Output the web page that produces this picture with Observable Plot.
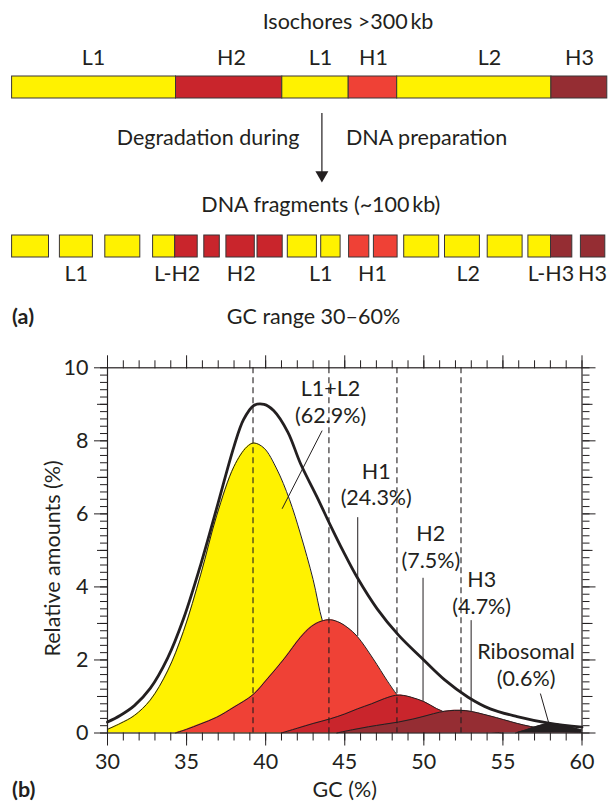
<!DOCTYPE html>
<html><head><meta charset="utf-8">
<script src="https://cdn.jsdelivr.net/npm/d3@7"></script>
<script src="https://cdn.jsdelivr.net/npm/@observablehq/plot@0.6"></script>
<style>
html,body{margin:0;padding:0;background:#fff;}
#fig{position:relative;width:610px;height:803px;overflow:hidden;}
#fig svg{position:absolute;left:0;}
</style></head><body><div id="fig"></div>
<script>
// ---------- Panel (a): schematic (positions along the DNA, arbitrary units) ----------
const isochoreClass = ["L1","H2","L1","H1","L2","H3"];
const isochoreStart = [11.6,175.5,281.8,348.2,396.7,550.9];
const isochoreEnd   = [175.5,281.8,348.2,396.7,550.9,606.8];
const isochoreLabelPos = [93,231,320,373,489,579];

const fragmentClass = ["L1","L1","L1","L1","H2","H2","H2","H2","L1","L1","H1","H1","L2","L2","L2","L2","H3","H3"];
const fragmentStart = [11.6,59.4,104.8,152.6,174.7,203.8,225.9,257.0,287.3,320.7,348.6,373.4,403.7,444.5,487.2,527.9,550.5,580.4];
const fragmentEnd   = [48.5,92.4,139.8,174.7,197.2,219.3,254.3,282.2,316.4,340.1,368.8,397.1,438.7,479.4,522.1,550.5,571.8,604.8];
const fragmentLabels = ["L1","L-H2","H2","L1","H1","L2","L-H3","H3"];
const fragmentLabelPos = [75.7,176.6,240.7,320.3,372,467.8,550.5,592];

// ---------- Panel (b): CsCl profile ----------
const xTickLabels = [30,35,40,45,50,55,60];
const yTickLabels = [0,2,4,6,8,10];

const totalGC  = [30,30.8,31.7,32.7,33.8,34.8,35.9,36.9,38.0,38.6,39.25,39.9,40.5,41.4,42.2,43.25,44.1,44.9,45.8,47.05,48.4,49.8,51.3,52.8,54.2,55.9,57.9,60];
const totalAmt = [0.30,0.48,0.75,1.22,2.05,3.12,4.62,6.15,7.85,8.58,8.97,9.00,8.83,8.24,7.38,6.46,5.68,4.98,4.25,3.40,2.68,2.08,1.46,0.98,0.66,0.45,0.27,0.16];

const l1l2GC  = [30,30.8,31.7,32.7,33.8,34.8,35.9,36.9,38.0,38.8,39.25,39.9,40.7,41.5,42.2,43.0,43.6,44.5,45.5,46.5,47.5];
const l1l2Amt = [0.10,0.26,0.48,0.90,1.70,2.78,4.35,5.95,7.30,7.83,7.94,7.80,7.23,6.40,5.45,4.20,3.05,2.00,1.10,0.50,0.15];

const h1GC  = [34.3,35.0,35.9,36.9,38.0,39.2,40.1,41.2,42.2,42.9,43.5,44.1,44.7,45.2,45.8,46.8,47.7,48.3,49.0,50.0,51.0];
const h1Amt = [0,0.10,0.25,0.43,0.71,1.05,1.48,2.05,2.62,2.92,3.06,3.10,3.02,2.88,2.64,2.03,1.42,1.05,0.70,0.30,0.05];

const h2GC  = [41.0,42.0,43.0,44.1,45.0,45.8,46.7,47.5,48.2,48.7,49.2,50.0,50.8,51.3,52.0,53.0,54.0,55.0];
const h2Amt = [0,0.13,0.26,0.39,0.52,0.66,0.80,0.94,1.03,1.03,0.98,0.86,0.67,0.57,0.38,0.18,0.06,0];

const h3GC  = [44.5,45.5,46.5,47.5,48.4,49.3,50.2,51.0,51.6,52.3,53.0,53.8,54.6,55.5,56.3,57.2,58.2,59.0,60];
const h3Amt = [0,0.09,0.17,0.24,0.30,0.38,0.48,0.57,0.61,0.62,0.59,0.51,0.42,0.31,0.22,0.14,0.07,0.04,0.02];

const riboGC  = [55.8,56.5,57.2,57.9,58.5,59.2,60];
const riboAmt = [0,0.09,0.19,0.26,0.24,0.17,0.08];

const peakGC = [39.2,44.0,48.3,52.35];

const labelName = ["L1+L2","H1","H2","H3","Ribosomal"];
const labelPct  = ["(62.9%)","(24.3%)","(7.5%)","(4.7%)","(0.6%)"];
const labelGC   = [44.1,46.99,50.44,53.66,56.46];
const labelAmt  = [8.50,6.23,4.53,3.27,1.30];
const leaderGC1  = [43.57,45.82,49.95,52.99,57.37];
const leaderAmt1 = [8.28,5.91,4.25,3.09,1.08];
const leaderGC2  = [41.04,45.82,49.95,52.99,57.9];
const leaderAmt2 = [6.14,2.66,0.88,0.60,0.27];

// ---------- styling ----------
const ink = "#231F20";
const fs = 21.5;
const font = "Lato, sans-serif";
const classColor = {L1:"#FFF200", L2:"#FFF200", H1:"#EF4136", H2:"#C9252C", H3:"#952D33"};
const yellow = "#FFF200", h1Col = "#EF4136", h2Col = "#C9252C", h3Col = "#952D33", riboCol = "#231F20";

const rows = (gc, amt) => gc.map((g, i) => ({gc: g, amt: amt[i]}));
const isochores = isochoreClass.map((c, i) => ({cls: c, start: isochoreStart[i], end: isochoreEnd[i], lx: isochoreLabelPos[i]}));
const fragments = fragmentClass.map((c, i) => ({cls: c, start: fragmentStart[i], end: fragmentEnd[i]}));
const fragLab = fragmentLabels.map((t, i) => ({t, x: fragmentLabelPos[i]}));
const arrowX = [321.4];

const fig = document.getElementById("fig");

const plotA = Plot.plot({
  width: 610, height: 340, margin: 0,
  x: {domain: [0, 610], range: [0, 610]},
  y: {domain: [0, 340], range: [0, 340]},
  style: {fontFamily: font, fontSize: fs + "px", color: ink, background: "transparent"},
  marks: [
    Plot.text(["Isochores >300\u2009kb"], {x: 347.5, y: 28.5, text: d => d, lineAnchor: "bottom", fontSize: fs, fill: ink}),
    Plot.text(isochores, {x: "lx", y: 64, text: "cls", lineAnchor: "bottom", fontSize: fs, fill: ink}),
    Plot.rect(isochores, {x1: "start", x2: "end", y1: 76, y2: 98, fill: d => classColor[d.cls], stroke: "#3a3536", strokeWidth: 1}),
    Plot.ruleX(arrowX, {x: d => d, y1: 113, y2: 172, stroke: ink, strokeWidth: 1.2}),
    Plot.dot(arrowX, {x: d => d, y: 174.5, symbol: "triangle", r: 4.83, rotate: 180, fill: ink, stroke: null}),
    Plot.text(["Degradation during"], {x: 299, y: 144, text: d => d, textAnchor: "end", lineAnchor: "bottom", fontSize: fs, fill: ink}),
    Plot.text(["DNA preparation"], {x: 345.5, y: 144, text: d => d, textAnchor: "start", lineAnchor: "bottom", fontSize: fs, fill: ink}),
    Plot.text(["DNA fragments (~100\u2009kb)"], {x: 320.3, y: 211.7, text: d => d, lineAnchor: "bottom", fontSize: fs, fill: ink}),
    Plot.rect(fragments, {x1: "start", x2: "end", y1: 235, y2: 257, fill: d => classColor[d.cls], stroke: "#3a3536", strokeWidth: 1}),
    Plot.text(fragLab, {x: "x", y: 280, text: "t", lineAnchor: "bottom", fontSize: fs, fill: ink}),
    Plot.text(["(a)"], {x: 11.6, y: 323, text: d => d, textAnchor: "start", lineAnchor: "bottom", fontSize: fs, fontWeight: "bold", fill: ink}),
    Plot.text(["GC range 30\u201360%"], {x: 313, y: 323, text: d => d, lineAnchor: "bottom", fontSize: fs, fill: ink})
  ]
});
plotA.style.top = "0px";
fig.appendChild(plotA);

const curve = "catmull-rom";
const minorX = d3.range(30, 61, 1);
const minorY = d3.range(0, 10.001, 0.2);
const midY = [1,3,5,7,9];
const tk = {stroke: ink, strokeWidth: 1, fill: "none", label: null};
const labels = labelName.map((t, i) => ({t, p: labelPct[i], gc: labelGC[i], amt: labelAmt[i]}));
const leaders = leaderGC1.map((g, i) => ({x1: g, y1: leaderAmt1[i], x2: leaderGC2[i], y2: leaderAmt2[i]}));

const layer = (gc, amt, col) => [
  Plot.areaY(rows(gc, amt), {x: "gc", y: "amt", fill: col, curve}),
  Plot.lineY(rows(gc, amt), {x: "gc", y: "amt", stroke: ink, strokeWidth: 1, curve})
];

const plotB = Plot.plot({
  width: 610, height: 463,
  marginTop: 27.3, marginBottom: 70.5, marginLeft: 107, marginRight: 28.5,
  x: {domain: [30, 60]},
  y: {domain: [0, 10]},
  style: {fontFamily: font, fontSize: fs + "px", color: ink, background: "transparent", overflow: "visible"},
  marks: [
    ...layer(l1l2GC, l1l2Amt, yellow),
    ...layer(h1GC, h1Amt, h1Col),
    ...layer(h2GC, h2Amt, h2Col),
    ...layer(h3GC, h3Amt, h3Col),
    ...layer(riboGC, riboAmt, riboCol),
    Plot.ruleX(peakGC, {x: d => d, stroke: ink, strokeWidth: 1.1, strokeDasharray: "6,4"}),
    Plot.lineY(rows(totalGC, totalAmt), {x: "gc", y: "amt", stroke: ink, strokeWidth: 2.8, curve}),
    Plot.link(leaders, {x1: "x1", y1: "y1", x2: "x2", y2: "y2", stroke: ink, strokeWidth: 1}),
    Plot.text(labels, {x: "gc", y: "amt", text: "t", lineAnchor: "bottom", dy: -26.5, fontSize: fs, fill: ink}),
    Plot.text(labels, {x: "gc", y: "amt", text: "p", lineAnchor: "bottom", fontSize: fs, fill: ink}),
    Plot.axisX(xTickLabels, {anchor: "bottom", tickSize: 13, ...tk}),
    Plot.axisX(minorX, {anchor: "bottom", tickSize: 8, ...tk}),
    Plot.axisX(xTickLabels, {anchor: "top", tickSize: 13, ...tk}),
    Plot.axisX(minorX, {anchor: "top", tickSize: 8, ...tk}),
    Plot.axisY(yTickLabels, {anchor: "left", tickSize: 13, ...tk}),
    Plot.axisY(midY, {anchor: "left", tickSize: 10, ...tk}),
    Plot.axisY(minorY, {anchor: "left", tickSize: 7, ...tk}),
    Plot.axisY(yTickLabels, {anchor: "right", tickSize: 13, ...tk}),
    Plot.axisY(midY, {anchor: "right", tickSize: 10, ...tk}),
    Plot.axisY(minorY, {anchor: "right", tickSize: 7, ...tk}),
    Plot.axisX(xTickLabels, {anchor: "bottom", tickSize: 0, tickPadding: 20.6, fontSize: fs, fill: ink, label: null}),
    Plot.axisY(yTickLabels, {anchor: "left", tickSize: 0, tickPadding: 19, fontSize: fs, fill: ink, label: null}),
    Plot.frame({stroke: ink, strokeWidth: 1.2}),
    Plot.text(["Relative amounts (%)"], {frameAnchor: "left", text: d => d, rotate: -90, dx: -54.7, dy: 8, textAnchor: "middle", lineAnchor: "middle", fontSize: fs, fill: ink}),
    Plot.text(["GC (%)"], {frameAnchor: "bottom", text: d => d, dy: 63.5, textAnchor: "middle", lineAnchor: "bottom", fontSize: fs, fill: ink}),
    Plot.text(["(b)"], {frameAnchor: "bottom-left", text: d => d, dx: -95.4, dy: 63.5, textAnchor: "start", lineAnchor: "bottom", fontSize: fs, fontWeight: "bold", fill: ink})
  ]
});
plotB.style.top = "340px";
fig.appendChild(plotB);
</script>
</body></html>
